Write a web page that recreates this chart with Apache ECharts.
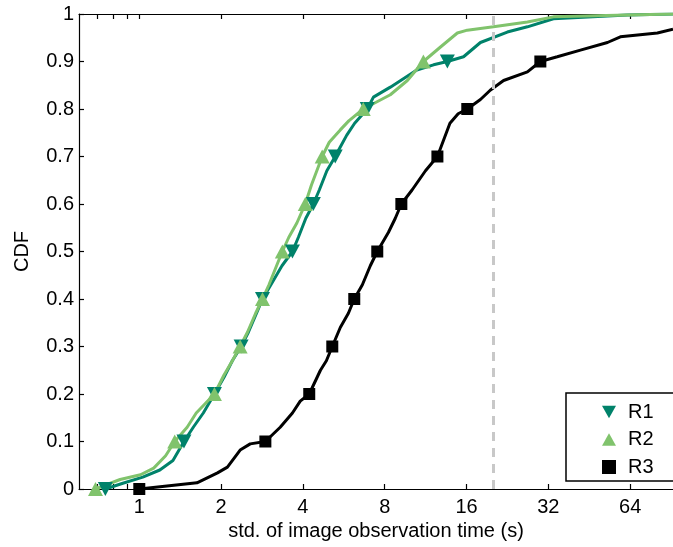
<!DOCTYPE html>
<html><head><meta charset="utf-8">
<script src="https://cdn.jsdelivr.net/npm/echarts@6/dist/echarts.min.js"></script>
<style>html,body{margin:0;padding:0;background:#fff}#c{width:673px;height:547px}</style>
</head><body><div id="c"></div>
<script>
const cdfLevels = [0,0.1,0.2,0.3,0.4,0.5,0.6,0.7,0.8,0.9];
const xTickLabels = [1,2,4,8,16,32,64];
const xTickMarks = [0.7,0.8,0.9,1,2,4,8,16,32,64];
const thresholdX = 20;

const r1LineX = [0.75,0.87,1.03,1.19,1.33,1.46,1.58,1.72,1.89,2.05,2.2,2.37,2.52,2.7,2.84,3.05,3.35,3.66,3.85,4.1,4.37,4.6,4.9,5.26,5.49,5.8,6.2,6.9,7.27,8.39,10.5,12.1,13.6,15.6,18.0,22.6,26.8,33.4,62.5,92];
const r1LineY = [0,0.012,0.025,0.04,0.06,0.1,0.13,0.16,0.2,0.235,0.27,0.3,0.33,0.37,0.4,0.43,0.47,0.5,0.53,0.57,0.6,0.63,0.67,0.7,0.72,0.745,0.77,0.8,0.825,0.846,0.882,0.893,0.9,0.91,0.94,0.962,0.973,0.99,0.998,1.0];
const r2LineX = [0.69,0.85,1.01,1.13,1.25,1.35,1.5,1.62,1.75,1.89,2.05,2.2,2.35,2.5,2.68,2.84,3.0,3.2,3.36,3.55,3.8,4.08,4.3,4.5,4.71,5.0,5.49,5.9,6.67,8.39,9.69,11.1,12.8,14.8,16.1,20.1,26.8,33.4,62.5,92];
const r2LineY = [0,0.02,0.03,0.044,0.07,0.1,0.13,0.16,0.18,0.2,0.24,0.27,0.3,0.33,0.37,0.4,0.43,0.47,0.5,0.53,0.56,0.6,0.64,0.67,0.7,0.73,0.756,0.775,0.8,0.83,0.86,0.9,0.93,0.96,0.966,0.973,0.983,0.994,0.998,1.0];
const r3LineX = [1.0,1.63,1.94,2.11,2.35,2.56,2.91,3.30,3.66,3.91,4.22,4.64,4.88,5.13,5.49,5.88,6.18,6.62,7.08,7.51,8.25,8.75,9.21,10.1,11.3,12.5,13.9,14.9,16.1,18.0,19.6,21.9,26.8,29.9,34.5,42.0,52.8,58.9,80.6,92];
const r3LineY = [0,0.013,0.034,0.046,0.082,0.095,0.1,0.13,0.16,0.185,0.2,0.25,0.27,0.3,0.34,0.37,0.4,0.43,0.47,0.5,0.54,0.57,0.6,0.63,0.67,0.7,0.77,0.79,0.8,0.82,0.84,0.86,0.878,0.9,0.91,0.924,0.94,0.952,0.96,0.968];

const r1MarkX = [0.75,1.46,1.89,2.37,2.84,3.66,4.37,5.26,6.9,13.6];
const r2MarkX = [0.69,1.35,1.89,2.35,2.84,3.36,4.08,4.71,6.67,11.1];
const r3MarkX = [1.0,2.91,4.22,5.13,6.18,7.51,9.21,12.5,16.1,29.9];

const C1 = '#00826a', C2 = '#80c36c', C3 = '#000000';
const FONT = 'Liberation Sans, Arial, sans-serif';
const FS = 20;
const zip = (xs, ys) => xs.map((x, i) => [x, ys[i]]);
const downTri = 'path://M0,0 L10,0 L5,9 Z';
const upTri = 'path://M5,0 L10,9 L0,9 Z';

const xBase = {
  type: 'log', logBase: 2, min: 0.6, max: 92,
  axisLine: {show: true, lineStyle: {color: '#000', width: 1.2}},
  axisTick: {show: true, inside: true, length: 5, customValues: xTickMarks, lineStyle: {color: '#000', width: 1.2}},
  splitLine: {show: false}, minorTick: {show: false}
};

const chart = echarts.init(document.getElementById('c'));
chart.setOption({
  animation: false,
  backgroundColor: '#fff',
  textStyle: {fontFamily: FONT},
  grid: {left: 79, right: 0, top: 14, bottom: 58},
  xAxis: [
    Object.assign({}, xBase, {
      position: 'bottom',
      name: 'std. of image observation time (s)', nameLocation: 'middle', nameGap: 32,
      nameTextStyle: {fontSize: FS, color: '#000', fontFamily: FONT},
      axisLabel: {show: true, customValues: xTickLabels, margin: 8, fontSize: FS, color: '#000', fontFamily: FONT,
        formatter: v => String(Math.round(v))}
    }),
    Object.assign({}, xBase, {position: 'top', axisLabel: {show: false}})
  ],
  yAxis: {
    type: 'value', min: 0, max: 1, interval: 0.1,
    name: 'CDF', nameLocation: 'middle', nameGap: 47,
    nameTextStyle: {fontSize: FS, color: '#000', fontFamily: FONT},
    axisLine: {show: true, lineStyle: {color: '#000', width: 1.2}},
    axisTick: {show: true, inside: true, length: 5, lineStyle: {color: '#000', width: 1.2}},
    splitLine: {show: false},
    axisLabel: {fontSize: FS, color: '#000', margin: 5, fontFamily: FONT,
      formatter: v => (v === 0 ? '0' : v === 1 ? '1' : v.toFixed(1))}
  },
  legend: {
    data: ['R1', 'R2', 'R3'], orient: 'vertical', left: 566, top: 393,
    padding: [9, 40, 4, 36], itemWidth: 14, itemHeight: 14, itemGap: 7.5,
    backgroundColor: '#fff', borderColor: '#000', borderWidth: 1.5, borderRadius: 0,
    textStyle: {fontSize: FS, color: '#000', fontFamily: FONT, padding: [0, 0, 0, 7]}
  },
  series: [
    {name: 'R1 cdf', type: 'line', data: zip(r1LineX, r1LineY), showSymbol: false, symbol: 'none',
      lineStyle: {color: C1, width: 3}, z: 2,
      markLine: {silent: true, symbol: 'none', label: {show: false},
        lineStyle: {color: '#c8c8c8', type: [9, 7], width: 3},
        data: [{xAxis: thresholdX}]}},
    {name: 'R2 cdf', type: 'line', data: zip(r2LineX, r2LineY), showSymbol: false, symbol: 'none',
      lineStyle: {color: C2, width: 3}, z: 3},
    {name: 'R3 cdf', type: 'line', data: zip(r3LineX, r3LineY), showSymbol: false, symbol: 'none',
      lineStyle: {color: C3, width: 3}, z: 3},
    {name: 'R1', type: 'scatter', data: zip(r1MarkX, cdfLevels), symbol: downTri, symbolSize: [15, 14],
      itemStyle: {color: C1, opacity: 1}, clip: false, z: 5},
    {name: 'R2', type: 'scatter', data: zip(r2MarkX, cdfLevels), symbol: upTri, symbolSize: [15, 14],
      itemStyle: {color: C2, opacity: 1}, clip: false, z: 6},
    {name: 'R3', type: 'scatter', data: zip(r3MarkX, cdfLevels), symbol: 'rect', symbolSize: 12,
      itemStyle: {color: C3, opacity: 1}, clip: false, z: 6}
  ]
});
</script></body></html>
